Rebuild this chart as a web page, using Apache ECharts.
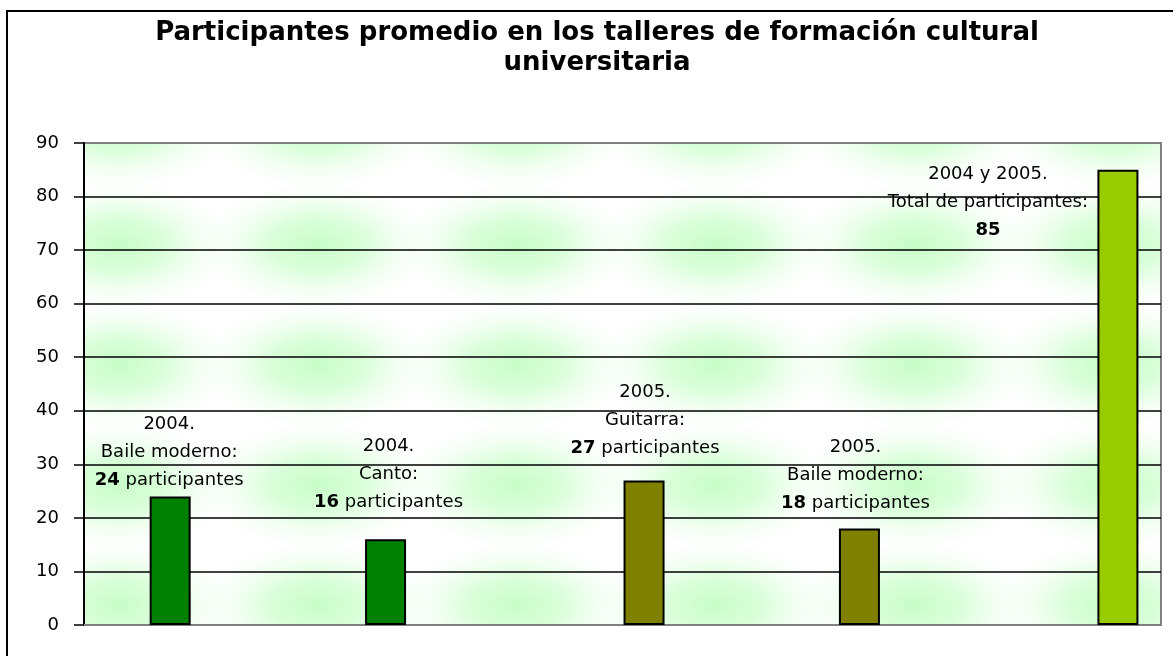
<!DOCTYPE html>
<html>
<head>
<meta charset="utf-8">
<script src="https://cdn.jsdelivr.net/npm/echarts@6/dist/echarts.min.js"></script>
<style>
  html, body { margin: 0; padding: 0; background: #fff; }
  #chart { width: 1173px; height: 656px; }
</style>
</head>
<body>
<div id="chart"></div>
<script>
// datos del grafico
const barNames = ["2004 Baile moderno", "2004 Canto", "2005 Guitarra", "2005 Baile moderno", "2004 y 2005 Total"];
const barValues = [24, 16, 27, 18, 85];
const labelYears = ["2004.", "2004.", "2005.", "2005.", "2004 y 2005."];
const labelTopics = ["Baile moderno:", "Canto:", "Guitarra:", "Baile moderno:", "Total de participantes:"];
const labelUnits = ["participantes", "participantes", "participantes", "participantes", ""];
const barColors = ["#008000", "#008000", "#808000", "#808000", "#99cc00"];

// disposicion: huecos del eje x y donde cae cada barra
const slotCount = 26;
const barSlots = [2, 7, 13, 18, 24];
const labelOffsets = [[-1, -2], [3, -23], [1, -18], [-4, -11], [-130, 75]];

const categories = [];
const seriesData = [];
for (let i = 0; i < slotCount; i++) {
  const b = barSlots.indexOf(i);
  categories.push(b >= 0 ? barNames[b] : "");
  if (b >= 0) {
    seriesData.push({
      value: barValues[b],
      itemStyle: { color: barColors[b] },
      label: { offset: labelOffsets[b] },
    });
  } else {
    seriesData.push("-");
  }
}

// textura verde del fondo
function makeTile() {
  const w = 199, h = 120;
  const c = document.createElement("canvas");
  c.width = w;
  c.height = h;
  const ctx = c.getContext("2d");
  ctx.fillStyle = "#ffffff";
  ctx.fillRect(0, 0, w, h);
  const cx = 118, cy = 5;
  for (let i = -1; i <= 1; i++) {
    for (let j = -1; j <= 1; j++) {
      ctx.save();
      ctx.translate(cx + i * w, cy + j * h);
      ctx.scale(1, 0.55);
      const g = ctx.createRadialGradient(0, 0, 0, 0, 0, 115);
      g.addColorStop(0, "rgba(200,252,200,1)");
      g.addColorStop(0.4, "rgba(205,255,205,0.75)");
      g.addColorStop(0.75, "rgba(215,255,215,0.25)");
      g.addColorStop(1, "rgba(220,255,220,0)");
      ctx.fillStyle = g;
      ctx.fillRect(-120, -120, 240, 240);
      ctx.restore();
    }
  }
  return c;
}

const chart = echarts.init(document.getElementById("chart"));

const option = {
  backgroundColor: "#ffffff",
  animation: false,
  textStyle: { fontFamily: "DejaVu Sans" },
  title: {
    text: "Participantes promedio en los talleres de formación cultural\nuniversitaria",
    left: 597,
    top: 18,
    padding: 0,
    textAlign: "center",
    textStyle: {
      fontFamily: "DejaVu Sans",
      fontWeight: "bold",
      fontSize: 26,
      lineHeight: 30,
      color: "#000",
    },
  },
  graphic: [
    {
      type: "rect",
      shape: { x: 7, y: 11, width: 1400, height: 900 },
      style: { fill: null, stroke: "#000", lineWidth: 2 },
      silent: true,
    },
  ],
  grid: {
    show: true,
    left: 84,
    right: 12,
    top: 143,
    bottom: 31,
    backgroundColor: { image: makeTile(), repeat: "repeat" },
    borderColor: "#808080",
    borderWidth: 2,
  },
  xAxis: {
    type: "category",
    data: categories,
    boundaryGap: false,
    axisLine: { lineStyle: { color: "#808080", width: 2 } },
    axisTick: { show: false },
    axisLabel: { show: false },
    splitLine: { show: false },
  },
  yAxis: {
    type: "value",
    min: 0,
    max: 90,
    interval: 10,
    axisLine: { show: true, lineStyle: { color: "#000", width: 2 } },
    axisTick: { show: true, length: 10, lineStyle: { color: "#000", width: 1.5 } },
    axisLabel: { margin: 25, fontSize: 18, color: "#000", fontFamily: "DejaVu Sans" },
    splitLine: {
      show: true,
      lineStyle: {
        color: ["#808080", "#000", "#000", "#000", "#000", "#000", "#000", "#000", "#000", "#808080"],
        width: 1.5,
      },
    },
  },
  series: [
    {
      type: "bar",
      data: seriesData,
      barWidth: 41,
      itemStyle: { borderColor: "#000", borderWidth: 2 },
      label: {
        show: true,
        position: "top",
        distance: 0,
        fontFamily: "DejaVu Sans",
        fontSize: 18,
        lineHeight: 28,
        color: "#000",
        formatter: (p) => {
          const b = barSlots.indexOf(p.dataIndex);
          const last = labelUnits[b] ? "{b|" + barValues[b] + "} " + labelUnits[b] : "{b|" + barValues[b] + "}";
          return labelYears[b] + "\n" + labelTopics[b] + "\n" + last;
        },
        rich: {
          b: { fontWeight: "bold", fontSize: 18, lineHeight: 28, color: "#000", fontFamily: "DejaVu Sans" },
        },
      },
    },
  ],
};

chart.setOption(option);
window.addEventListener("resize", () => {
  chart.resize();
});
</script>
</body>
</html>
